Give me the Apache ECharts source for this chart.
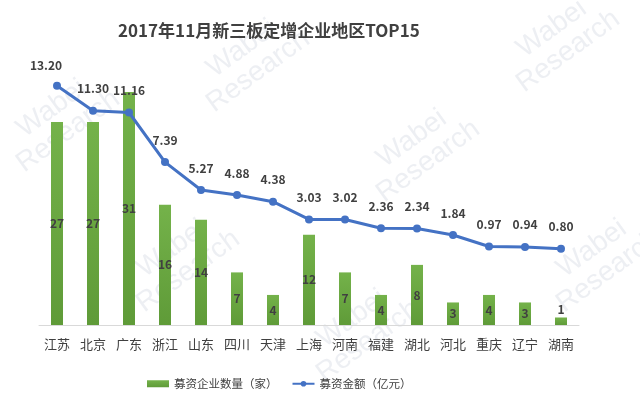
<!DOCTYPE html>
<html>
<head>
<meta charset="utf-8">
<script src="https://cdn.jsdelivr.net/npm/echarts@6/dist/echarts.min.js"></script>
<style>
  html, body { margin: 0; padding: 0; background: #fff; }
  #diagram { width: 640px; height: 399px; }
</style>
</head>
<body>
<div id="diagram"></div>
<script>
var regions = ["江苏", "北京", "广东", "浙江", "山东", "四川", "天津", "上海", "河南", "福建", "湖北", "河北", "重庆", "辽宁", "湖南"];
var companies = [27, 27, 31, 16, 14, 7, 4, 12, 7, 4, 8, 3, 4, 3, 1];
var amounts = [13.20, 11.30, 11.16, 7.39, 5.27, 4.88, 4.38, 3.03, 3.02, 2.36, 2.34, 1.84, 0.97, 0.94, 0.80];

var myChart = echarts.init(document.getElementById("diagram"));
var textColor = "#404040";
var font = "'Noto Sans CJK SC', sans-serif";

// small bars get their label on top, like the original
var barData = companies.map(function (v) {
  if (v < 2) {
    return { value: v, label: { position: "top", distance: 2 } };
  }
  return v;
});

// first point label sits a bit to the left in the original
var lineData = amounts.map(function (v, i) {
  if (i === 0) {
    return { value: v, label: { offset: [-11, 2] } };
  }
  return v;
});

// faint watermark
var marks = [];
[[60, 120], [250, 60], [420, 150], [560, 40], [180, 260], [600, 260], [360, 330]].forEach(function (p) {
  marks.push({
    type: "text",
    x: p[0], y: p[1],
    rotation: Math.PI / 5,
    silent: true,
    z: -1,
    style: {
      text: "Wabei\nResearch",
      fill: "rgba(190,198,212,0.28)",
      font: "28px 'Liberation Sans', sans-serif",
      align: "center",
      verticalAlign: "middle"
    }
  });
});

var option = {
  backgroundColor: "#fff",
  color: ["#70AD47", "#4472C4"],
  textStyle: { fontFamily: font },
  graphic: marks,
  title: {
    text: "2017年11月新三板定增企业地区TOP15",
    left: 113,
    top: 17,
    textStyle: { fontSize: 17, fontWeight: "bold", color: textColor, fontFamily: font }
  },
  legend: {
    left: 142,
    top: 373,
    itemGap: 14,
    itemWidth: 22,
    itemHeight: 7,
    textStyle: { fontSize: 11.5, color: textColor, fontFamily: font },
    data: [
      { name: "募资企业数量（家）", icon: "rect" },
      { name: "募资金额（亿元）" }
    ]
  },
  grid: { left: 39, right: 61, top: 62, bottom: 74 },
  xAxis: {
    type: "category",
    data: regions,
    axisTick: { show: false },
    axisLine: { lineStyle: { color: "#d9d9d9" } },
    axisLabel: { color: textColor, fontSize: 13, margin: 13, fontFamily: font }
  },
  yAxis: [
    { type: "value", min: 0, max: 35, show: false, splitLine: { show: false } },
    { type: "value", min: -5, max: 15, show: false, splitLine: { show: false } }
  ],
  series: [
    {
      name: "募资企业数量（家）",
      type: "bar",
      barWidth: 12,
      yAxisIndex: 0,
      data: barData,
      itemStyle: {
        color: new echarts.graphic.LinearGradient(0, 0, 0, 1, [
          { offset: 0, color: "#74b24a" },
          { offset: 1, color: "#5f9b38" }
        ])
      },
      label: {
        show: true,
        position: "inside",
        color: textColor,
        fontSize: 12,
        fontWeight: "bold",
        fontFamily: font
      }
    },
    {
      name: "募资金额（亿元）",
      type: "line",
      yAxisIndex: 1,
      data: lineData,
      symbol: "circle",
      symbolSize: 8,
      lineStyle: { width: 3, color: "#4472C4" },
      itemStyle: { color: "#4472C4" },
      label: {
        show: true,
        position: "top",
        distance: 12,
        color: textColor,
        fontSize: 12,
        fontWeight: "bold",
        fontFamily: font,
        formatter: function (p) { return p.value.toFixed(2); }
      }
    }
  ]
};
myChart.setOption(option);
</script>
</body>
</html>
